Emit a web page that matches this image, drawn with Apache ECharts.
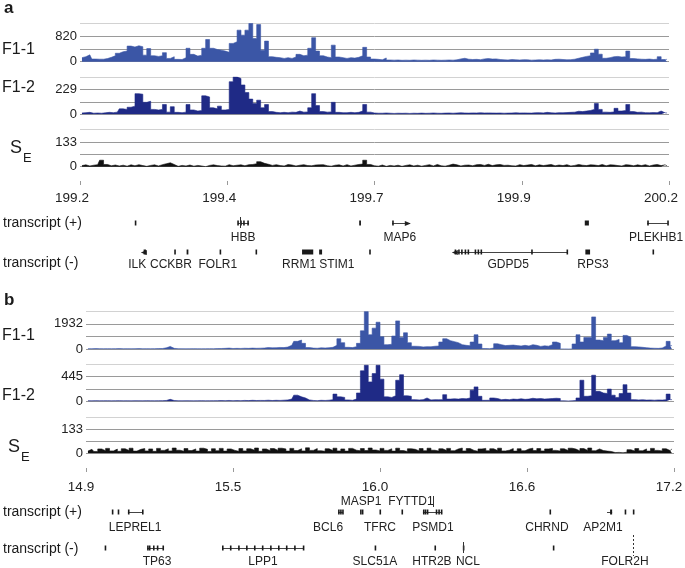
<!DOCTYPE html>
<html><head><meta charset="utf-8">
<script src="https://cdn.jsdelivr.net/npm/echarts@6/dist/echarts.min.js"></script>
<style>html,body{margin:0;padding:0;background:#fff}#c{width:685px;height:568px}</style>
</head><body><div id="c"></div>
<script>
// ---------------- DATA ----------------
const rangeA = [199.2, 200.2];
const rangeB = [14.9, 17.2];
const tickLabelsA = ['199.2', '199.4', '199.7', '199.9', '200.2'];
const tickLabelsB = ['14.9', '15.5', '16.0', '16.6', '17.2'];
// labelled value on each track's second gridline (tracks: F1-1, F1-2, SE)
const yLabelA = [820, 229, 133];
const yLabelB = [1932, 445, 133];

const f11A = [130,160,220,85,80,80,100,140,190,270, 320,340,500,470,510,480,210,420,190,170,
  190,290,105,160,75,70,130,430,235,180, 210,430,710,430,390,370,340,300,585,640,
  1010,850,1010,1225,745,1190,370,660,160,140, 130,105,130,105,150,235,190,210,430,770,
  340,190,150,130,530,150,130,105,130,115, 140,190,460,150,85,75,
  60,120,55,50,55,45,50,45,55,50, 45,50,45,55,50,45,50,55,50,60,
  90,110,80,70,75,65,90,100,85,90, 70,60,55,70,60,55,65,60,50,55,
  60,55,60,55,75,80,70,60,65,80, 110,140,170,190,280,400,240,110,130,160,
  170,150,160,340,100,90,80,75,85,70, 80,160,70,75];
const f12A = [12,15,18,10,12,10,14,18,15,20, 50,45,65,75,190,185,110,120,45,40,
  45,90,20,70,18,15,20,90,40,30, 35,170,160,60,50,75,40,45,300,345,
  330,270,200,140,100,130,60,90,25,18, 15,18,15,20,18,30,20,22,60,190,
  80,25,20,22,110,18,15,15,18,15, 18,30,90,20,12,10,
  10,12,10,8,10,9,10,8,10,9, 11,9,10,12,10,9,11,12,10,12,
  14,12,11,13,12,14,12,13,12,11, 12,10,11,12,14,12,13,12,11,14,
  15,13,18,14,12,15,14,16,18,20, 28,25,30,35,45,100,45,20,18,22,
  55,30,35,90,25,18,20,15,14,16, 15,30,14,12];
const seA = [6,10,4,8,11,35,12,5,9,4, 8,3,10,5,11,6,2,7,10,4, 11,16,21,12,2,7,4,9,3,7,
  4,0,7,10,6,4,3,11,5,8, 10,5,11,12,16,27,18,13,7,11, 6,4,12,9,4,8,11,6,5,9,
  10,11,5,3,8,10,4,11,4,8, 12,14,35,12,5,3,9,2,7,4, 8,2,7,10,4,8,3,7,11,4,
  12,5,3,8,14,10,4,8,9,5, 11,12,7,13,6,10,12,7,8,5, 4,11,6,9,12,5,10,6,9,12,
  5,9,6,11,4,7,12,8,6,10, 9,6,12,5,10,9,6,4,11,9, 5,10,6,11,4,9,12,6,10,5];

const f11B = [50,45,55,50,45,50,45,50,55,45, 50,45,50,55,45,50,45,50,55,60,
  110,220,70,50,45,40,45,50,45,40, 45,50,45,55,60,70,90,60,70,65,
  80,70,90,75,85,95,130,110,120,140, 130,170,300,600,700,450,130,90,80,110,
  100,120,150,300,800,500,150,130,200,450, 1400,2850,1100,1600,2050,950,
  350,380,1000,2150,900,1250,500,230,220,180, 200,190,230,250,550,800,650,580,500,350,
  300,270,550,1100,400,60,50,90,420,350, 280,300,320,280,250,300,250,350,300,220,
  260,240,350,550,450,30,25,30,400,1100, 550,900,900,2450,700,650,900,1150,650,750,
  500,1050,900,200,180,150,120,90,80,70, 100,250,600,280];
const f12B = [10,8,12,9,10,11,8,10,12,9, 10,8,11,10,9,12,10,9,11,12,
  15,35,14,10,9,11,10,8,10,12, 9,10,11,12,14,12,15,11,13,12,
  16,13,18,14,16,15,20,14,18,16, 20,25,40,110,80,60,25,15,12,18,
  15,20,30,130,80,70,25,18,40,150, 550,650,350,500,650,400,
  80,70,100,380,480,100,90,30,25,30, 60,25,30,28,30,120,40,45,40,50,
  45,60,200,260,90,18,20,60,50,30, 35,30,40,35,45,35,40,55,45,50,
  40,45,50,55,50,8,6,8,15,60, 380,90,100,470,180,150,140,220,110,70,
  140,300,150,30,25,28,22,25,20,25, 22,28,130,30];
const seB = [12,22,10,24,14,27,13,23,11,25, 15,28,12,22,26,13,24,11,27,16,
  25,13,29,17,11,26,15,24,12,28, 22,10,25,14,27,12,24,16,11,26,
  13,25,17,29,11,24,14,26,16,28, 24,12,27,15,25,13,30,16,26,14,
  11,25,15,28,13,24,12,27,17,14, 26,15,29,18,13,27,16,25,12,28,
  15,10,25,22,13,26,14,28,17,12, 25,15,27,14,24,29,13,26,16,11,
  24,27,14,25,15,28,13,17,26,12, 25,14,24,28,15,26,13,24,27,16,
  12,25,15,28,23,13,26,16,29,14, 24,15,12,10,4,5,3,6,20,12,
  26,14,24,12,27,16,13,25,15,24];

// gene models (Mb). rows: 0 label above (+), 1 (+) marks, 2 (+) labels, 3 (-) marks, 4 (-) labels
// lines: [start, end, row, arrow(1 right, -1 left, 0 none)]
const geneLinesA = [[199.468,199.487,1,0],[199.730,199.760,1,1],[200.163,200.198,1,0],
  [199.305,199.312,3,-1],[199.833,200.027,3,-1]];
const exonsA = [[199.293,199.294,1],[199.467,199.469,1],[199.472,199.474,1],[199.477,199.479,1],
  [199.484,199.486,1],[199.674,199.677,1],[199.730,199.731,1],[200.057,200.064,1],
  [200.163,200.164,1],[200.197,200.198,1],
  [199.308,199.312,3],[199.360,199.362,3],[199.381,199.384,3],[199.437,199.439,3],
  [199.498,199.499,3],[199.577,199.596,3],[199.606,199.611,3],[199.691,199.693,3],
  [199.836,199.838,3],[199.842,199.844,3],[199.847,199.849,3],[199.853,199.855,3],
  [199.858,199.860,3],[199.870,199.872,3],[199.875,199.877,3],[199.880,199.882,3],
  [199.966,199.968,3],[200.026,200.027,3],[200.058,200.066,3],[200.172,200.173,3]];
const vmarksA = [[199.471,1,0]];
const labelsA = [['HBB',199.477,2],['MAP6',199.743,2],['PLEKHB1',200.178,2],
  ['ILK',199.297,4],['CCKBR',199.3545,4],['FOLR1',199.434,4],['RRM1',199.572,4],
  ['STIM1',199.636,4],['GDPD5',199.927,4],['RPS3',200.071,4]];

const geneLinesB = [[15.064,15.123,1,0],[15.886,15.905,1,0],[16.218,16.293,1,0],[16.938,16.958,1,0],
  [15.139,15.201,3,0],[15.432,15.749,3,0]];
const exonsB = [[15.001,15.004,1],[15.024,15.027,1],[15.064,15.065,1],[15.119,15.125,1],
  [15.886,15.889,1],[15.894,15.897,1],[15.902,15.905,1],[15.972,15.975,1],[15.979,15.983,1],
  [16.048,16.052,1],[16.134,16.138,1],[16.218,16.221,1],[16.225,16.229,1],[16.233,16.236,1],
  [16.268,16.272,1],[16.278,16.283,1],[16.288,16.293,1],[16.713,16.717,1],
  [16.950,16.958,1],[17.007,17.009,1],[17.039,17.041,1],
  [14.973,14.974,3],[15.139,15.143,3],[15.146,15.150,3],[15.162,15.164,3],[15.177,15.179,3],
  [15.199,15.201,3],[15.432,15.433,3],[15.463,15.464,3],[15.495,15.496,3],[15.526,15.527,3],
  [15.557,15.558,3],[15.588,15.589,3],[15.620,15.621,3],[15.651,15.652,3],[15.682,15.683,3],
  [15.714,15.715,3],[15.748,15.749,3],[16.029,16.032,3],[16.263,16.267,3],[16.374,16.377,3],
  [16.726,16.727,3]];
const vmarksB = [[16.375,3,0],[17.040,3,1],[16.257,0,0]];
const labelsB = [['MASP1',15.976,0],['FYTTD1',16.171,0],['LEPREL1',15.092,2],['BCL6',15.847,2],
  ['TFRC',16.050,2],['PSMD1',16.257,2],['CHRND',16.703,2],['AP2M1',16.922,2],
  ['TP63',15.178,4],['LPP1',15.592,4],['SLC51A',16.030,4],['HTR2B',16.253,4],
  ['NCL',16.394,4],['FOLR2H',17.008,4]];

// ---------------- LAYOUT / STYLE ----------------
const FONT = '"Liberation Sans", Arial, Helvetica, sans-serif';
const rowYA = [208, 223, 238, 252, 265];
const rowYB = [502, 512, 528, 548, 562];
const colF11 = '#3b56a6', colF12 = '#1f2a86', colSE = '#111111';
const gridLineCols = ['#9a9a9a', '#9a9a9a', '#9a9a9a', '#d2d2d2'];

const panelA = {left: 80, width: 589, tracks: [[23.3, 38.4], [77, 37.3], [129.7, 37]], tickTop: 180, labY: 198, labShift: 8, genesTop: 195};
const panelB = {left: 86, width: 588, tracks: [[311, 38.3], [364.3, 37], [417, 36.3]], tickTop: 467, labY: 487, labShift: 5, genesTop: 490};

const grid = [], xAxis = [], yAxis = [], series = [];

function toXY(vals, range) {
  const n = vals.length, step = (range[1] - range[0]) / n;
  return vals.map((v, i) => [range[0] + (i + 0.5) * step, v]);
}

function addPanel(P, range, trackData, yLabels, cols, tickLabels, lines, exons, vmarks, labels, rowY) {
  trackData.forEach((vals, t) => {
    const gi = grid.length;
    grid.push({left: P.left, width: P.width, top: P.tracks[t][0], height: P.tracks[t][1]});
    xAxis.push({gridIndex: gi, type: 'value', min: range[0], max: range[1], show: false});
    const L = yLabels[t];
    yAxis.push({gridIndex: gi, type: 'value', min: 0, max: L * 1.5, interval: L / 2,
      axisLine: {show: false}, axisTick: {show: false},
      axisLabel: {margin: 3, fontSize: 13, color: '#222', fontFamily: FONT,
        formatter: v => (v === 0 ? '0' : (Math.abs(v - L) < 1e-6 ? String(L) : ''))},
      splitLine: {show: true, lineStyle: {color: gridLineCols, width: 1}}});
    series.push({type: 'line', xAxisIndex: gi, yAxisIndex: gi, data: toXY(vals, range),
      symbol: 'none', sampling: false, silent: true, z: 3, step: 'middle',
      lineStyle: {color: cols[t], width: 0.6}, areaStyle: {color: cols[t], opacity: 1}});
  });
  // tick axis (tick marks only; labels drawn below with a small left shift like the reference)
  const ti = grid.length;
  grid.push({left: P.left, width: P.width, top: P.tickTop, height: 1});
  xAxis.push({gridIndex: ti, type: 'value', min: 0, max: tickLabels.length - 1, interval: 1,
    axisLine: {show: false}, splitLine: {show: false}, axisLabel: {show: false},
    axisTick: {show: true, length: 4, lineStyle: {color: '#999'}}});
  yAxis.push({gridIndex: ti, type: 'value', show: false, min: 0, max: 1});
  series.push({type: 'custom', xAxisIndex: ti, yAxisIndex: ti, silent: true,
    data: tickLabels.map((l, i) => [i, 0]),
    renderItem: (params, api) => {
      const x = api.coord([api.value(0), 0])[0] - P.labShift;
      return {type: 'text', style: {text: tickLabels[params.dataIndex], x: x, y: P.labY,
        align: 'center', verticalAlign: 'middle', fontSize: 13.5, fontFamily: FONT, fill: '#222'}};
    }});
  // genes grid
  const gg = grid.length;
  grid.push({left: P.left, width: P.width, top: P.genesTop, height: 76});
  xAxis.push({gridIndex: gg, type: 'value', min: range[0], max: range[1], show: false});
  yAxis.push({gridIndex: gg, type: 'value', min: 0, max: 1, show: false});
  const X = (api, v) => api.coord([v, 0])[0];
  series.push({type: 'custom', xAxisIndex: gg, yAxisIndex: gg, silent: true,
    data: lines.map(l => [l[0], l[1], l[2], l[3]]),
    renderItem: (params, api) => {
      const x1 = X(api, api.value(0)), x2 = X(api, api.value(1));
      const y = Math.round(rowY[api.value(2)]) + 0.5, dir = api.value(3);
      const ch = [{type: 'line', shape: {x1: x1, y1: y, x2: x2, y2: y}, style: {stroke: '#444', lineWidth: 1}}];
      if (dir > 0) ch.push({type: 'polygon', shape: {points: [[x2 - 5, y - 2.5], [x2 + 1, y], [x2 - 5, y + 2.5]]}, style: {fill: '#222'}});
      if (dir < 0) ch.push({type: 'polygon', shape: {points: [[x1 + 5, y - 2.5], [x1 - 1, y], [x1 + 5, y + 2.5]]}, style: {fill: '#222'}});
      return {type: 'group', children: ch};
    }});
  series.push({type: 'custom', xAxisIndex: gg, yAxisIndex: gg, silent: true,
    data: exons.map(e => [e[0], e[1], e[2]]),
    renderItem: (params, api) => {
      const x1 = X(api, api.value(0)), x2 = X(api, api.value(1));
      const y = rowY[api.value(2)];
      const w = Math.max(x2 - x1, 1.6);
      return {type: 'rect', shape: {x: x1, y: y - 2.5, width: w, height: 5}, style: {fill: '#1a1a1a'}};
    }});
  series.push({type: 'custom', xAxisIndex: gg, yAxisIndex: gg, silent: true,
    data: vmarks.map(m => [m[0], m[1], m[2]]),
    renderItem: (params, api) => {
      const x = Math.round(X(api, api.value(0))) + 0.5;
      const y = rowY[api.value(1)], dashed = api.value(2) === 1;
      return {type: 'line', shape: {x1: x, y1: dashed ? y - 13 : y - 6, x2: x, y2: dashed ? y + 8 : y + 5},
        style: {stroke: '#333', lineWidth: 1, lineDash: dashed ? [2, 2] : null}};
    }});
  series.push({type: 'custom', xAxisIndex: gg, yAxisIndex: gg, silent: true,
    data: labels.map(l => [l[1], l[2]]),
    renderItem: (params, api) => {
      const x = X(api, api.value(0)), y = rowY[api.value(1)];
      return {type: 'text', style: {text: labels[params.dataIndex][0], x: x, y: y,
        align: 'center', verticalAlign: 'middle', fontSize: 12, fontFamily: FONT, fill: '#222'}};
    }});
}

addPanel(panelA, rangeA, [f11A, f12A, seA], yLabelA, [colF11, colF12, colSE], tickLabelsA,
  geneLinesA, exonsA, vmarksA, labelsA, rowYA);
addPanel(panelB, rangeB, [f11B, f12B, seB], yLabelB, [colF11, colF12, colSE], tickLabelsB,
  geneLinesB, exonsB, vmarksB, labelsB, rowYB);

function txt(t, x, y, size, bold) {
  return {type: 'text', x: x, y: y, silent: true,
    style: {text: t, fontSize: size, fontWeight: bold ? 'bold' : 'normal', fontFamily: FONT,
      fill: '#1a1a1a', verticalAlign: 'middle', align: 'left'}};
}
const graphic = [
  txt('a', 4, 8, 17, true), txt('b', 4, 300, 17, true),
  txt('F1-1', 2, 50, 16), txt('F1-2', 2, 88, 16), txt('S', 10, 148, 18), txt('E', 23, 158, 13),
  txt('transcript (+)', 3, 223, 14), txt('transcript (-)', 3, 263, 14),
  txt('F1-1', 2, 336, 16), txt('F1-2', 2, 396, 16), txt('S', 8, 447, 18), txt('E', 21, 457, 13),
  txt('transcript (+)', 3, 512, 14), txt('transcript (-)', 3, 549, 14)
];

const chart = echarts.init(document.getElementById('c'), null, {renderer: 'canvas'});
chart.setOption({animation: false, backgroundColor: '#fff', grid, xAxis, yAxis, series, graphic});
</script></body></html>
